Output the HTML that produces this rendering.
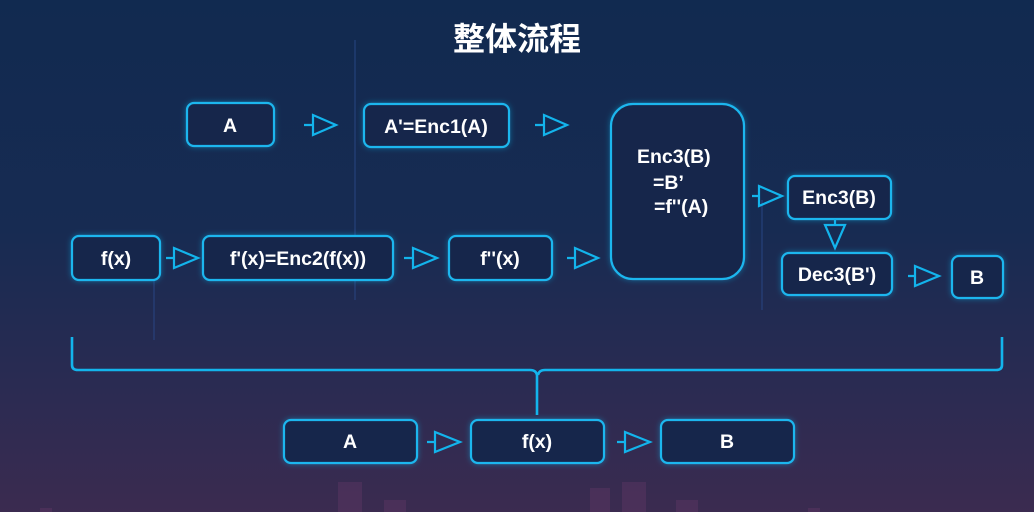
<!DOCTYPE html>
<html><head><meta charset="utf-8"><style>
html,body{margin:0;padding:0;width:1034px;height:512px;overflow:hidden}
body{background:linear-gradient(#112a50 0%,#172b52 45%,#2a2b52 75%,#3b2b50 100%)}
svg{position:absolute;left:0;top:0}
text{font-family:"Liberation Sans","Noto Sans CJK SC",sans-serif;font-weight:bold;fill:#fff;font-size:19.5px}
.b{fill:#13284c;stroke:#1cb6ee;stroke-width:2.2;filter:url(#g)}
.a{fill:none;stroke:#13b4ec;stroke-width:2.2}
</style></head><body>
<svg width="1034" height="512">
<defs><filter id="g" x="-30%" y="-30%" width="160%" height="160%"><feGaussianBlur in="SourceAlpha" stdDeviation="3" result="b"/><feFlood flood-color="#1cb6ee" flood-opacity=".45"/><feComposite in2="b" operator="in" result="c"/><feMerge><feMergeNode in="c"/><feMergeNode in="SourceGraphic"/></feMerge></filter></defs>
<g opacity=".35" fill="#6a3a6a">
<rect x="338" y="482" width="24" height="30"/><rect x="622" y="482" width="24" height="30"/><rect x="590" y="488" width="20" height="24"/><rect x="384" y="500" width="22" height="12"/><rect x="676" y="500" width="22" height="12"/><rect x="40" y="508" width="12" height="4"/><rect x="808" y="508" width="12" height="4"/>
</g>
<g stroke="#2a4a8a" stroke-width="1.5" opacity=".6"><line x1="355" y1="40" x2="355" y2="300"/><line x1="762" y1="200" x2="762" y2="310"/><line x1="154" y1="280" x2="154" y2="340"/></g>
<text x="517" y="50" text-anchor="middle" style="font-size:32px">整体流程</text>
<rect class="b" x="187" y="103" width="87" height="43" rx="7"/><text x="230" y="132" text-anchor="middle">A</text>
<rect class="b" x="364" y="104" width="145" height="43" rx="7"/><text x="436" y="133" text-anchor="middle">A'=Enc1(A)</text>
<rect class="b" x="611" y="104" width="133" height="175" rx="22"/>
<text x="637" y="163">Enc3(B)</text><text x="653" y="189">=B’</text><text x="654" y="213">=f''(A)</text>
<rect class="b" x="72" y="236" width="88" height="44" rx="7"/><text x="116" y="265" text-anchor="middle">f(x)</text>
<rect class="b" x="203" y="236" width="190" height="44" rx="7"/><text x="298" y="265" text-anchor="middle">f'(x)=Enc2(f(x))</text>
<rect class="b" x="449" y="236" width="103" height="44" rx="7"/><text x="500" y="265" text-anchor="middle">f''(x)</text>
<rect class="b" x="788" y="176" width="103" height="43" rx="7"/><text x="839" y="204" text-anchor="middle">Enc3(B)</text>
<rect class="b" x="782" y="253" width="110" height="42" rx="7"/><text x="837" y="281" text-anchor="middle">Dec3(B')</text>
<rect class="b" x="952" y="256" width="51" height="42" rx="7"/><text x="977" y="284" text-anchor="middle">B</text>
<rect class="b" x="284" y="420" width="133" height="43" rx="7"/><text x="350" y="448" text-anchor="middle">A</text>
<rect class="b" x="471" y="420" width="133" height="43" rx="7"/><text x="537" y="448" text-anchor="middle">f(x)</text>
<rect class="b" x="661" y="420" width="133" height="43" rx="7"/><text x="727" y="448" text-anchor="middle">B</text>
<g class="a">
<path d="M304 125h9M313 115v20l23-10z"/>
<path d="M535 125h9M544 115v20l23-10z"/>
<path d="M166 258h8M174 248v20l24-10z"/>
<path d="M404 258h9M413 248v20l24-10z"/>
<path d="M567 258h8M575 248v20l23-10z"/>
<path d="M752 196h7M759 186v20l23-10z"/>
<path d="M835 219v6M825 225h20l-10 23z"/>
<path d="M908 276h7M915 266v20l24-10z"/>
<path d="M427 442h8M435 432v20l25-10z"/>
<path d="M617 442h8M625 432v20l25-10z"/>
<path d="M72 337v28q0 5 6 5h452q6 0 7 5v40M538 375q1-5 7-5h451q6 0 6-5v-28" stroke-width="2.6"/>
</g>
</svg>
</body></html>
